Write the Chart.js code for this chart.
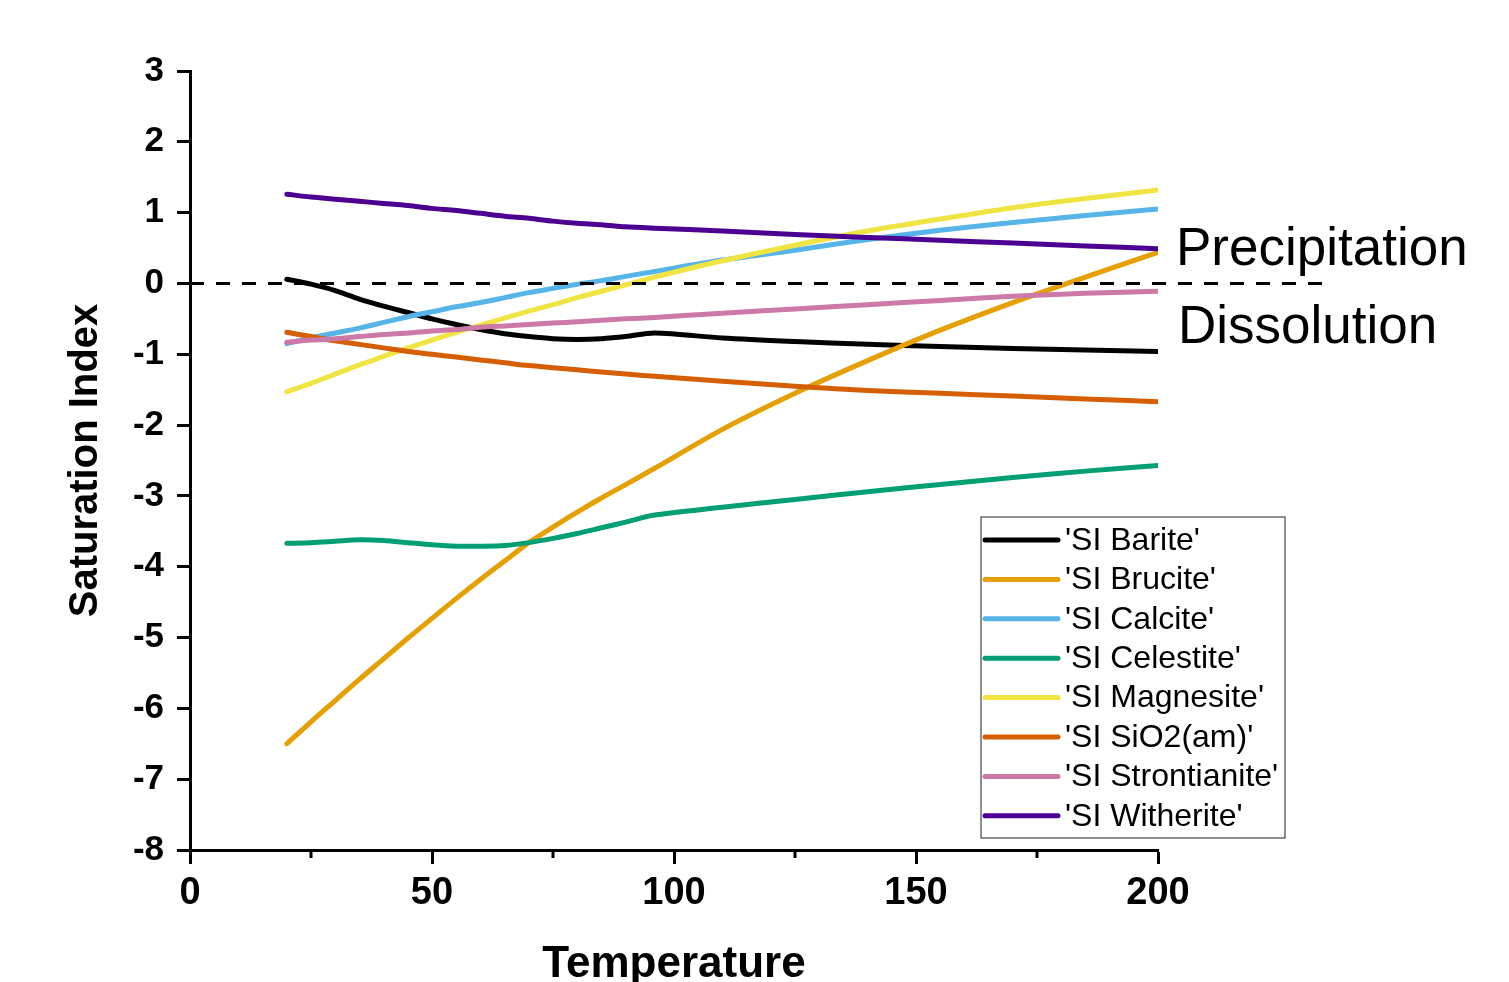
<!DOCTYPE html>
<html>
<head>
<meta charset="utf-8">
<script src="https://cdn.jsdelivr.net/npm/chart.js@4.4.1/dist/chart.umd.min.js"></script>
<style>
  html, body { margin: 0; padding: 0; background: #fff; overflow: hidden; }
  canvas { display: block; }
</style>
</head>
<body>
<canvas id="siChart" width="1509" height="982"></canvas>
<script>
// Temperature grid
var temperature = [20, 25, 30, 35, 40, 45, 50, 55, 60, 65, 70, 75, 80, 85, 90, 96, 110, 125, 140, 155, 170, 185, 200];

var siBarite       = [0.06, -0.01, -0.10, -0.22, -0.32, -0.41, -0.50, -0.58, -0.65, -0.71, -0.75, -0.78, -0.79, -0.78, -0.75, -0.70, -0.77, -0.82, -0.86, -0.89, -0.92, -0.94, -0.96];
var siBrucite      = [-6.50, -6.19, -5.89, -5.59, -5.30, -5.01, -4.73, -4.45, -4.18, -3.92, -3.66, -3.44, -3.23, -3.03, -2.84, -2.61, -2.06, -1.55, -1.09, -0.66, -0.27, 0.09, 0.44];
var siCalcite      = [-0.85, -0.77, -0.70, -0.63, -0.55, -0.47, -0.40, -0.33, -0.27, -0.20, -0.13, -0.07, -0.01, 0.04, 0.10, 0.17, 0.33, 0.47, 0.62, 0.75, 0.86, 0.96, 1.05];
var siCelestite    = [-3.67, -3.66, -3.64, -3.62, -3.63, -3.66, -3.69, -3.71, -3.71, -3.70, -3.66, -3.60, -3.53, -3.45, -3.37, -3.27, -3.16, -3.05, -2.94, -2.84, -2.74, -2.65, -2.57];
var siMagnesite    = [-1.53, -1.41, -1.28, -1.15, -1.03, -0.91, -0.80, -0.69, -0.59, -0.49, -0.39, -0.30, -0.20, -0.11, -0.02, 0.09, 0.32, 0.54, 0.74, 0.91, 1.07, 1.20, 1.32];
var siSiO2         = [-0.69, -0.75, -0.81, -0.86, -0.91, -0.96, -1.00, -1.04, -1.08, -1.12, -1.16, -1.19, -1.22, -1.25, -1.28, -1.31, -1.38, -1.45, -1.51, -1.55, -1.59, -1.63, -1.67];
var siStrontianite = [-0.83, -0.80, -0.78, -0.75, -0.72, -0.70, -0.67, -0.65, -0.62, -0.60, -0.58, -0.56, -0.54, -0.52, -0.50, -0.48, -0.42, -0.36, -0.30, -0.24, -0.18, -0.14, -0.11];
var siWitherite    = [1.26, 1.22, 1.19, 1.16, 1.13, 1.10, 1.06, 1.03, 0.99, 0.95, 0.92, 0.88, 0.85, 0.83, 0.80, 0.78, 0.74, 0.69, 0.65, 0.61, 0.57, 0.53, 0.49];

var seriesNames  = ["'SI Barite'", "'SI Brucite'", "'SI Calcite'", "'SI Celestite'", "'SI Magnesite'", "'SI SiO2(am)'", "'SI Strontianite'", "'SI Witherite'"];
var seriesValues = [siBarite, siBrucite, siCalcite, siCelestite, siMagnesite, siSiO2, siStrontianite, siWitherite];
var seriesColors = ['#000000', '#E69F00', '#56B4E9', '#009E73', '#F0E442', '#D55E00', '#CC79A7', '#4B0092'];

// zero line (precipitation / dissolution boundary), runs past the axis end
var zeroLineX = [0, 235.5];
var zeroLineY = [0, 0];

var xTicksMinor = [25, 75, 125, 175];

var FONT = "'Liberation Sans', Arial, Helvetica, sans-serif";

function toPoints(xs, ys) {
    return xs.map(function(x, i) { return { x: x, y: ys[i] }; });
}

var datasets = seriesNames.map(function(name, i) {
    return {
        label: name,
        data: toPoints(temperature, seriesValues[i]),
        borderColor: seriesColors[i],
        backgroundColor: seriesColors[i],
        borderWidth: 5,
        pointRadius: 0,
        tension: 0.3,
        borderCapStyle: 'round',
        fill: false,
        order: -i
    };
});
datasets.push({
    label: 'zero',
    data: toPoints(zeroLineX, zeroLineY),
    borderColor: '#000',
    borderWidth: 3,
    borderDash: [14, 12],
    pointRadius: 0,
    clip: false,
    isGuide: true,
    order: -100
});

// minor ticks on x axis + region labels + boxed legend
var extrasPlugin = {
    id: 'extras',
    afterDraw: function(chart) {
        var ctx = chart.ctx;
        var xs = chart.scales.x, ys = chart.scales.y;
        var area = chart.chartArea;
        ctx.save();

        // minor ticks
        ctx.strokeStyle = '#000';
        ctx.lineWidth = 3;
        xTicksMinor.forEach(function(v) {
            var px = xs.getPixelForValue(v);
            ctx.beginPath();
            ctx.moveTo(px, area.bottom);
            ctx.lineTo(px, area.bottom + 8);
            ctx.stroke();
        });

        // Precipitation / Dissolution
        var y0 = ys.getPixelForValue(0);
        ctx.fillStyle = '#000';
        ctx.font = '53px ' + FONT;
        ctx.textBaseline = 'alphabetic';
        ctx.textAlign = 'left';
        ctx.fillText('Precipitation', area.right + 18, y0 - 18);
        ctx.fillText('Dissolution', area.right + 20, y0 + 60);

        // legend box
        var boxL = area.right - 177, boxT = area.bottom - 333;
        var boxW = 304, boxH = 321;
        ctx.fillStyle = '#fff';
        ctx.fillRect(boxL, boxT, boxW, boxH);
        ctx.strokeStyle = '#444';
        ctx.lineWidth = 1.2;
        ctx.strokeRect(boxL, boxT, boxW, boxH);

        ctx.font = '32px ' + FONT;
        ctx.textBaseline = 'middle';
        var row = 0;
        chart.data.datasets.forEach(function(ds) {
            if (ds.isGuide) return;
            var cy = boxT + 23 + row * 39.4;
            ctx.strokeStyle = ds.borderColor;
            ctx.lineWidth = 5;
            ctx.lineCap = 'round';
            ctx.beginPath();
            ctx.moveTo(boxL + 4, cy);
            ctx.lineTo(boxL + 77, cy);
            ctx.stroke();
            ctx.fillStyle = '#000';
            ctx.fillText(ds.label, boxL + 84, cy + 1);
            row++;
        });
        ctx.restore();
    }
};

var ctx = document.getElementById('siChart').getContext('2d');
new Chart(ctx, {
    type: 'line',
    data: { datasets: datasets },
    options: {
        responsive: false,
        animation: false,
        devicePixelRatio: 1,
        layout: { padding: { left: 0, top: 71, right: 351, bottom: 0 } },
        plugins: {
            legend: { display: false },
            tooltip: { enabled: false }
        },
        scales: {
            x: {
                type: 'linear',
                min: 0,
                max: 200,
                border: { display: true, color: '#000', width: 3 },
                grid: { display: true, drawOnChartArea: false, drawTicks: true, tickLength: 14, tickColor: '#000', tickWidth: 3 },
                ticks: { stepSize: 50, color: '#000', padding: 7, maxRotation: 0, font: { family: FONT, size: 38, weight: 'bold' } },
                title: { display: true, text: 'Temperature', color: '#000', padding: 0, font: { family: FONT, size: 44, weight: 'bold', lineHeight: 0.8 } },
                afterFit: function(scale) { scale.height = 132; }
            },
            y: {
                type: 'linear',
                min: -8,
                max: 3,
                border: { display: true, color: '#000', width: 3 },
                grid: { display: true, drawOnChartArea: false, drawTicks: true, tickLength: 13, tickColor: '#000', tickWidth: 3 },
                ticks: { stepSize: 1, color: '#000', padding: 13, font: { family: FONT, size: 35, weight: 'bold' } },
                title: { display: true, text: 'Saturation Index', color: '#000', padding: { top: 62, bottom: 0 }, font: { family: FONT, size: 40, weight: 'bold' } },
                afterFit: function(scale) { scale.width = 190; }
            }
        }
    },
    plugins: [extrasPlugin]
});
</script>
</body>
</html>
